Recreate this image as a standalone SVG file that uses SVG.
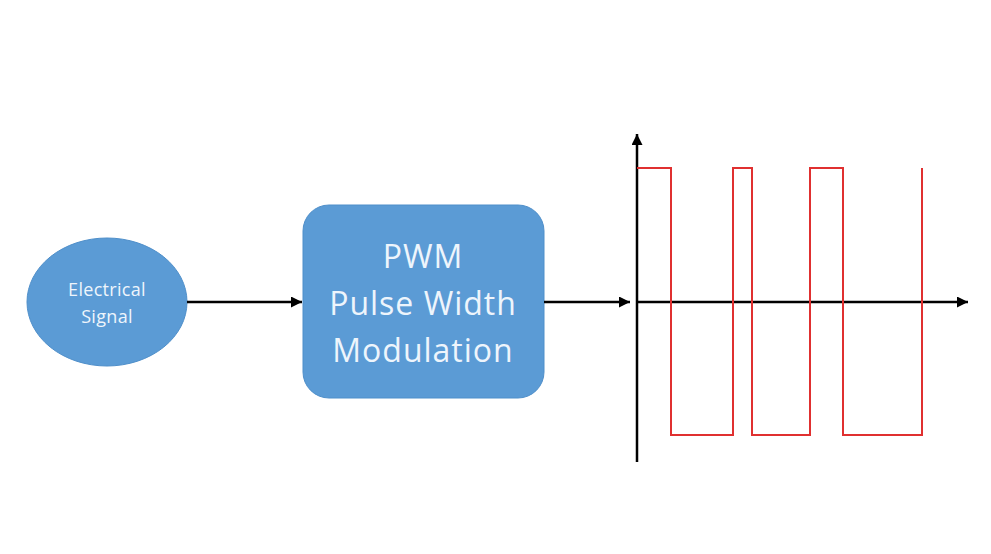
<svg xmlns="http://www.w3.org/2000/svg" width="991" height="554" viewBox="0 0 991 554">
<style>
.node{fill:#5b9bd5;stroke:#4f8fca;stroke-width:1}
.lbl{fill:#eef5fc;font-family:"Open Sans","Liberation Sans",sans-serif;text-anchor:middle}
.big{font-size:32px;letter-spacing:1px}
.small{font-size:18px;letter-spacing:0.3px}
.conn{stroke:#000;stroke-width:2.5;fill:none}
.wave{stroke:#e03030;stroke-width:2;fill:none;stroke-linejoin:miter}
</style>
<defs>
<marker id="ah" viewBox="0 0 10 10" refX="10" refY="5" markerWidth="4.4" markerHeight="4.4" markerUnits="strokeWidth" orient="auto">
<path d="M0,0 L10,5 L0,10 z" fill="#000"/>
</marker>
</defs>
<rect width="991" height="554" fill="#fff"/>
<g id="electrical-signal">
<ellipse class="node" cx="107" cy="302" rx="80" ry="64"/>
<text class="lbl small" x="107" y="296">Electrical</text>
<text class="lbl small" x="107" y="323">Signal</text>
</g>
<g id="pwm">
<rect class="node" x="303" y="205" width="241" height="193" rx="26" ry="26"/>
<text class="lbl big" x="423" y="268">PWM</text>
<text class="lbl big" x="423" y="315">Pulse Width</text>
<text class="lbl big" x="423" y="362">Modulation</text>
</g>
<g id="connectors">
<line class="conn" x1="187" y1="302" x2="302" y2="302" marker-end="url(#ah)"/>
<line class="conn" x1="544" y1="302" x2="630" y2="302" marker-end="url(#ah)"/>
</g>
<g id="plot">
<line class="conn" x1="637" y1="462" x2="637" y2="134" marker-end="url(#ah)"/>
<line class="conn" x1="636" y1="302" x2="968" y2="302" marker-end="url(#ah)"/>
<path class="wave" d="M637,168 H671 V435 H733 V168 H752 V435 H810 V168 H843 V435 H922 V168"/>
</g>
</svg>
